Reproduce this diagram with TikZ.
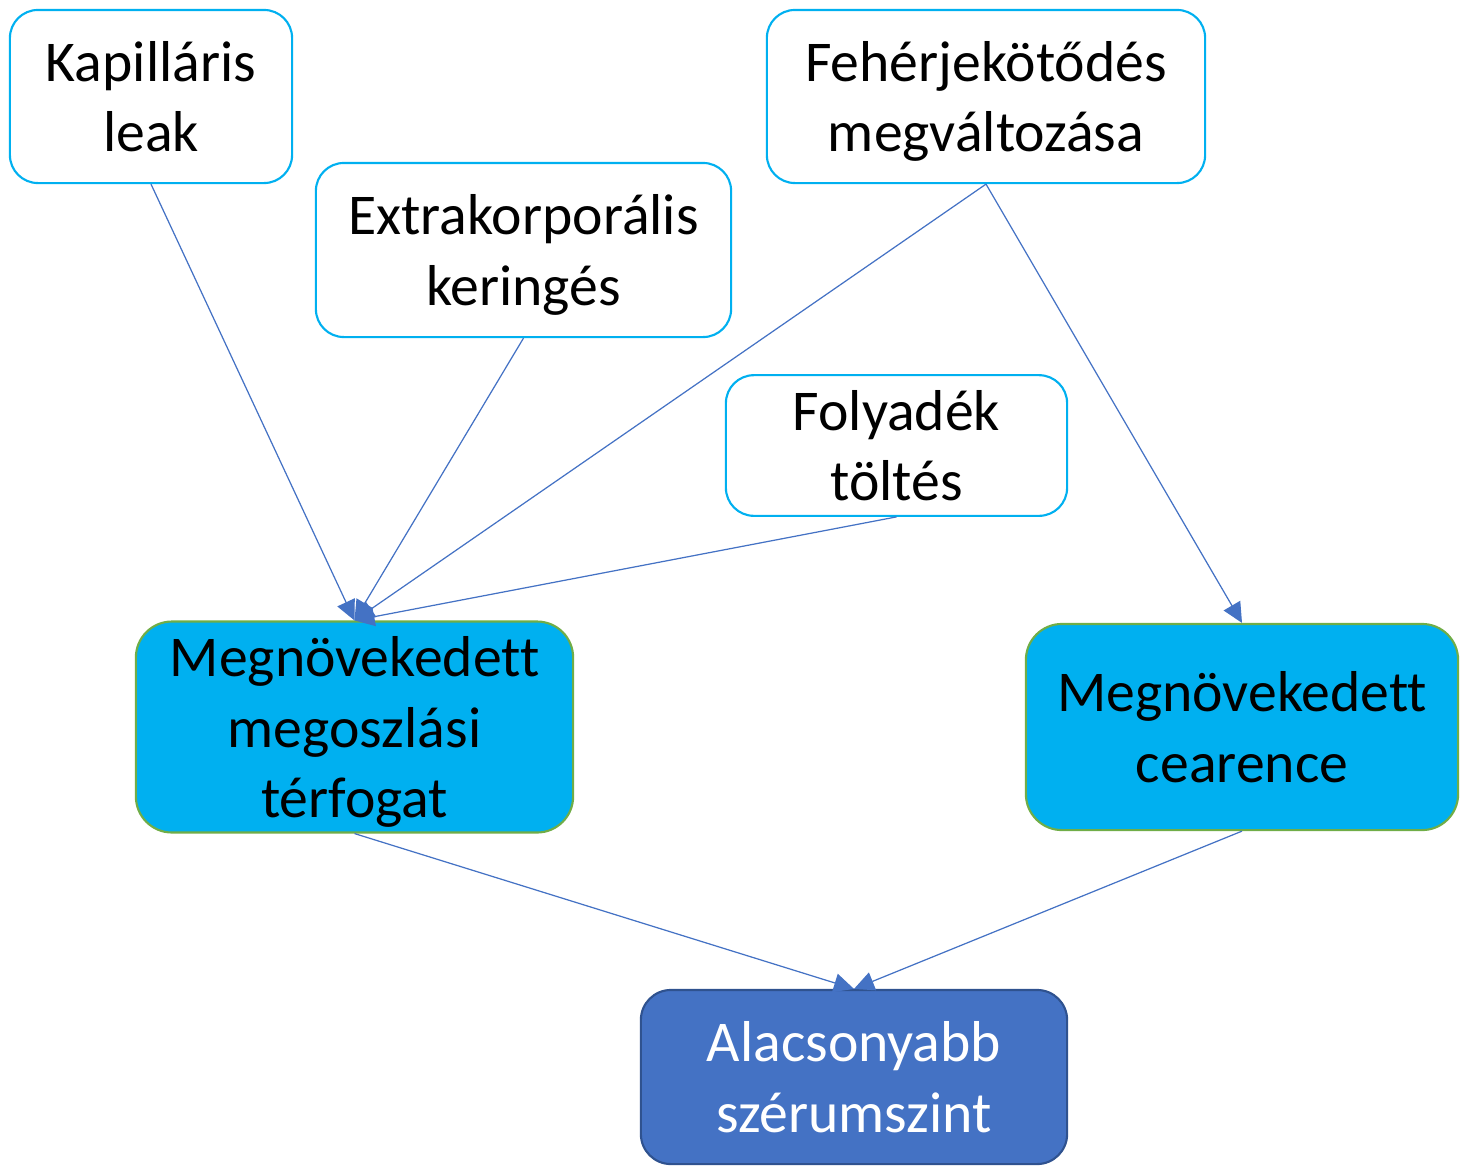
\documentclass[tikz,border=0pt]{standalone}
\usepackage{fontspec}
\setmainfont[Ligatures={NoCommon}]{Carlito}
\usetikzlibrary{arrows.meta}
\definecolor{cyanb}{HTML}{00B0F0}
\definecolor{greenb}{HTML}{70AD47}
\definecolor{blueb}{HTML}{4472C4}
\definecolor{darkb}{HTML}{2F528F}
\newcommand{\lbltxt}[1]{\raisebox{-1.7pt}[\height][\depth]{\begin{tabular}{@{}c@{}}#1\end{tabular}}}
\begin{document}
\begin{tikzpicture}[x=0.01cm,y=-0.01cm,
  base/.style={rounded corners=0.28cm, align=center, inner sep=0pt,
    font=\fontsize{16.4pt}{20pt}\selectfont, line width=0.6pt},
  whitebox/.style={base, draw=cyanb, fill=white},
  cyanbox/.style={base, draw=greenb, fill=cyanb, rounded corners=0.36cm},
  bluebox/.style={base, draw=darkb, fill=blueb, text=white, rounded corners=0.3cm},
  conn/.style={draw=blueb, line width=0.35pt, -{Triangle[length=0.2cm,width=0.19cm]}}
]
\useasboundingbox (0,0) rectangle (1460,1166);
\node[whitebox, minimum width=2.82cm, minimum height=1.73cm] (kap) at (151,96.5) {\lbltxt{Kapilláris\\leak}};
\node[whitebox, minimum width=4.15cm, minimum height=1.74cm] (ext) at (523.5,250) {\lbltxt{Extrakorporális\\keringés}};
\node[whitebox, minimum width=4.38cm, minimum height=1.73cm] (feh) at (986,96.5) {\lbltxt{Fehérjekötődés\\megváltozása}};
\node[whitebox, minimum width=3.41cm, minimum height=1.37cm] (fol) at (896.5,445.5) {\lbltxt{Folyadék\\töltés}};
\node[cyanbox, minimum width=4.37cm, minimum height=2.06cm] (meg) at (354.5,727) {\lbltxt{Megnövekedett\\megoszlási\\térfogat}};
\node[cyanbox, minimum width=4.32cm, minimum height=2.06cm] (cle) at (1242,727) {\lbltxt{Megnövekedett\\cearence}};
\node[bluebox, minimum width=4.26cm, minimum height=1.74cm] (ala) at (854,1077) {\lbltxt{Alacsonyabb\\szérumszint}};
\draw[conn] (kap.south) -- (meg.north);
\draw[conn] (ext.south) -- (meg.north);
\draw[conn] (feh.south) -- (meg.north);
\draw[conn] (fol.south) -- (meg.north);
\draw[conn] (feh.south) -- (cle.north);
\draw[conn] (meg.south) -- (ala.north);
\draw[conn] (cle.south) -- (ala.north);
\end{tikzpicture}
\end{document}
